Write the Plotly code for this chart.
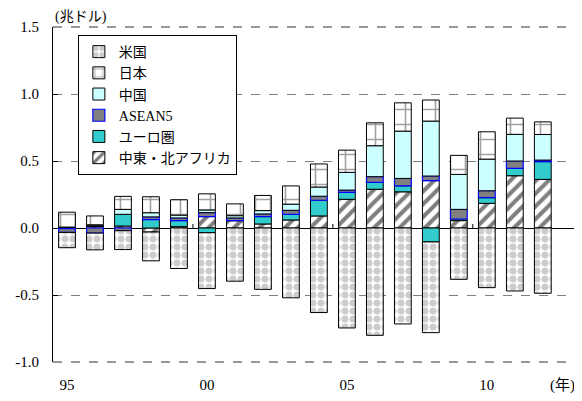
import plotly.graph_objects as go

# current account balances, trillion USD
years = list(range(1995, 2013))
us = [-0.114, -0.125, -0.141, -0.215, -0.302, -0.417, -0.397, -0.458, -0.521,
      -0.631, -0.746, -0.801, -0.716, -0.677, -0.383, -0.445, -0.470, -0.487]
japan = [0.111, 0.066, 0.097, 0.119, 0.115, 0.120, 0.088, 0.113, 0.136,
         0.172, 0.166, 0.171, 0.211, 0.157, 0.142, 0.204, 0.121, 0.094]
china = [0.002, 0.007, 0.037, 0.031, 0.021, 0.020, 0.017, 0.025, 0.046,
         0.069, 0.132, 0.231, 0.353, 0.410, 0.261, 0.236, 0.199, 0.191]
asean5 = [-0.028, -0.038, -0.020, 0.020, 0.020, 0.030, 0.020, 0.020, 0.030,
          0.030, 0.017, 0.042, 0.055, 0.035, 0.072, 0.052, 0.055, 0.012]
euro = [0.005, 0.005, 0.087, 0.063, 0.045, -0.035, 0.000, 0.055, 0.042,
        0.117, 0.052, 0.052, 0.045, -0.104, 0.012, 0.042, 0.055, 0.132]
mena = [-0.005, 0.012, 0.015, -0.030, 0.010, 0.085, 0.055, 0.030, 0.060,
        0.090, 0.214, 0.289, 0.270, 0.353, 0.055, 0.184, 0.390, 0.363]

tick_years = [1995, 2000, 2005, 2010]
tick_text = ["95", "00", "05", "10"]
y_ticks = [-1.0, -0.5, 0.0, 0.5, 1.0, 1.5]

FONT = "Liberation Serif, Noto Sans CJK JP"

# stacking order from the zero line outward
series = [
    ("中東・北アフリカ", mena, dict(color="white", line=dict(color="black", width=1),
                             pattern=dict(shape="/", fgcolor="black", bgcolor="white",
                                          size=9, solidity=0.45))),
    ("ユーロ圏", euro, dict(color="#33CCCC", line=dict(color="black", width=1))),
    ("ASEAN5", asean5, dict(color="#808080", line=dict(color="#0000FF", width=1.2))),
    ("中国", china, dict(color="#CCFFFF", line=dict(color="black", width=1))),
    ("日本", japan, dict(color="white", line=dict(color="black", width=1),
                       pattern=dict(shape="+", fgcolor="#444444", bgcolor="white",
                                    size=15, solidity=0.2))),
    ("米国", us, dict(color="white", line=dict(color="black", width=1),
                    pattern=dict(shape=".", fgcolor="#999999", bgcolor="white",
                                 size=8, solidity=0.6))),
]

fig = go.Figure()
for name, vals, marker in series:
    fig.add_trace(go.Bar(x=years, y=vals, name=name, marker=marker, width=0.6))

# small separators on the zero line between the labelled periods
shapes = []
for t in tick_years[1:]:
    shapes.append(dict(type="line", xref="x", yref="y", x0=t - 0.5, x1=t - 0.5,
                       y0=0, y1=0.03, line=dict(color="black", width=1)))
# dashed frame lines at the top and bottom of the plot
for yp in (0, 1):
    shapes.append(dict(type="line", xref="paper", yref="paper", x0=0, x1=1,
                       y0=yp, y1=yp, layer="below",
                       line=dict(color="#333333", width=1.2, dash="dash")))

# page body adds an 8px margin, so the figure is 8px smaller than the window
fig.update_layout(
    width=574, height=393,
    margin=dict(l=45, r=0, t=19, b=39),
    plot_bgcolor="white", paper_bgcolor="white",
    barmode="relative",
    font=dict(family=FONT, size=15, color="black"),
    shapes=shapes,
    showlegend=True,
    legend=dict(x=0.047, y=0.976, xanchor="left", yanchor="top",
                traceorder="reversed", bgcolor="white", bordercolor="black",
                borderwidth=1, font=dict(size=14, family=FONT)),
    xaxis=dict(range=[1994.5, 2013.4], tickvals=tick_years, ticktext=tick_text,
               showgrid=False, ticks="", showline=False, zeroline=False,
               ticklabelstandoff=12, automargin=False),
    yaxis=dict(range=[-1.0, 1.5], tickvals=y_ticks,
               ticktext=[f"{v:.1f}" for v in y_ticks],
               showgrid=True, gridcolor="#808080", griddash="dash", gridwidth=1,
               zeroline=True, zerolinecolor="black", zerolinewidth=1,
               showline=True, linecolor="black", linewidth=1,
               ticks="inside", ticklen=5, tickcolor="black",
               ticklabelstandoff=10, automargin=False),
    annotations=[
        dict(text="(兆ドル)", xref="paper", yref="paper", x=0.0, y=1.0,
             xanchor="left", yanchor="bottom", showarrow=False,
             font=dict(size=14, family=FONT)),
        dict(text="(年)", xref="paper", yref="paper", x=1.0, y=0.0,
             xanchor="right", yanchor="middle", xshift=-5, yshift=-23,
             showarrow=False, font=dict(size=15, family=FONT)),
    ],
)

fig.write_html("out.html")
